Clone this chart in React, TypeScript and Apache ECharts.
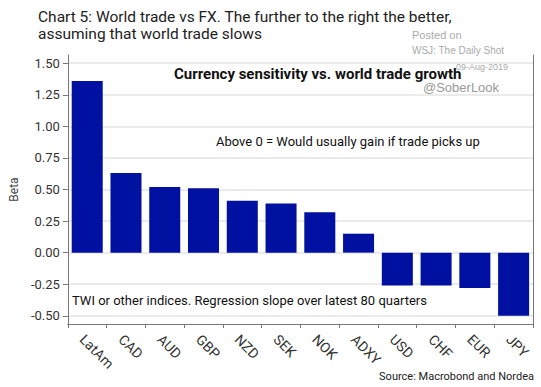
import React, { useEffect, useRef } from "react";
import * as echarts from "echarts";

const categories = ["LatAm", "CAD", "AUD", "GBP", "NZD", "SEK", "NOK", "ADXY", "USD", "CHF", "EUR", "JPY"];
const betas = [1.36, 0.63, 0.52, 0.51, 0.41, 0.39, 0.32, 0.15, -0.26, -0.26, -0.28, -0.5];
const yTicks = [-0.5, -0.25, 0, 0.25, 0.5, 0.75, 1, 1.25, 1.5];

const titleLines = ["Chart 5: World trade vs FX. The further to the right the better,", "assuming that world trade slows"];
const innerTitle = "Currency sensitivity vs. world trade growth";
const noteAbove = "Above 0 = Would usually gain if trade picks up";
const noteTwi = "TWI or other indices. Regression slope over latest 80 quarters";
const source = "Source: Macrobond and Nordea";

const FONT = "Roboto";

export default function App() {
  const ref = useRef<HTMLDivElement>(null);
  useEffect(() => {
    if (!ref.current) return;
    const chart = echarts.init(ref.current, null, { renderer: "svg" });
    chart.setOption({
      animation: false,
      backgroundColor: "#ffffff",
      textStyle: { fontFamily: FONT },
      grid: { left: 60, right: 8, top: 55, bottom: 63, containLabel: false },
      xAxis: {
        type: "category",
        data: categories,
        boundaryGap: true,
        axisLine: { show: true, onZero: false, lineStyle: { color: "#777", width: 1 } },
        axisTick: { show: true, alignWithLabel: false, length: 4, lineStyle: { color: "#777" } },
        axisLabel: {
          rotate: -45,
          fontSize: 14,
          color: "#333",
          margin: 8,
          interval: 0,
          verticalAlign: "top",
          fontFamily: FONT,
        },
        splitLine: { show: false },
      },
      yAxis: [
        {
          type: "value",
          min: -0.565,
          max: 1.565,
          name: "Beta",
          nameLocation: "middle",
          nameRotate: 90,
          nameGap: 47,
          nameTextStyle: { fontSize: 12, color: "#444", fontFamily: FONT },
          axisLine: { show: true, lineStyle: { color: "#777", width: 1 } },
          axisTick: { show: true, length: 5, lineStyle: { color: "#777" }, customValues: yTicks },
          axisLabel: {
            fontSize: 13,
            color: "#333",
            margin: 8,
            customValues: yTicks,
            formatter: (v: number) => v.toFixed(2),
            fontFamily: FONT,
          },
          splitLine: { show: false },
        },
        {
          type: "value",
          min: -0.565,
          max: 1.565,
          position: "right",
          axisLine: { show: true, lineStyle: { color: "#777", width: 1 } },
          axisTick: { show: false },
          axisLabel: { show: false },
          splitLine: { show: false },
        },
      ],
      series: [
        {
          type: "bar",
          data: betas,
          barCategoryGap: "20%",
          itemStyle: { color: "#0010a0" },
          markLine: {
            silent: true,
            symbol: "none",
            label: { show: false },
            lineStyle: { color: "#e4e4e4", width: 1.5, type: "solid" },
            data: yTicks.map((v) => ({ yAxis: v })),
            z: 0,
          },
          z: 2,
        },
      ],
      graphic: [
        {
          type: "text",
          left: 38,
          top: 8,
          style: { text: titleLines.join("\n"), fontSize: 15.5, lineHeight: 17, fill: "#222", fontFamily: FONT },
        },
        { type: "text", left: 412, top: 29, style: { text: "Posted on", fontSize: 11, fill: "#aaa", fontFamily: "Liberation Sans" } },
        { type: "text", left: 412, top: 45, style: { text: "WSJ: The Daily Shot", fontSize: 10, fill: "#aaa", fontFamily: "Liberation Sans" } },
        { type: "text", left: 456, top: 62, style: { text: "09-Aug-2019", fontSize: 9, fill: "#aaa", fontFamily: "Liberation Sans" } },
        { type: "text", left: 423, top: 81, style: { text: "@SoberLook", fontSize: 13, fill: "#999", fontFamily: "Liberation Sans" } },
        { type: "text", left: 174, top: 66, style: { text: innerTitle, fontSize: 15, fontWeight: "bold", fill: "#111", fontFamily: FONT } },
        { type: "text", left: 216, top: 135, style: { text: noteAbove, fontSize: 13, fill: "#111", fontFamily: FONT } },
        { type: "text", left: 72, top: 294, style: { text: noteTwi, fontSize: 13, fill: "#111", fontFamily: FONT } },
        { type: "text", right: 7, top: 371, style: { text: source, fontSize: 11, fill: "#222", fontFamily: FONT } },
      ],
    });
    return () => chart.dispose();
  }, []);
  return <div ref={ref} style={{ width: 541, height: 387, position: "absolute", left: 0, top: 0 }} />;
}
